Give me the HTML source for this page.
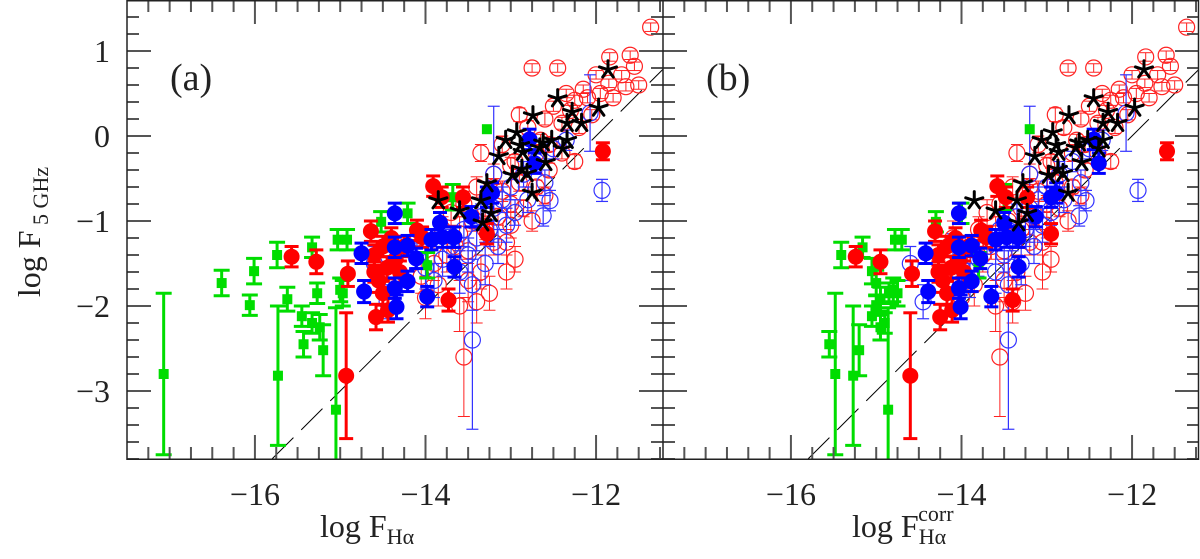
<!DOCTYPE html>
<html><head><meta charset="utf-8">
<style>
html,body{margin:0;padding:0;background:#fff;width:1200px;height:559px;overflow:hidden;}
svg{display:block;vertical-align:top;}
text{font-family:"Liberation Serif",serif;fill:#222;}
</style></head>
<body>
<svg id="chart" width="1200" height="559" viewBox="0 0 1200 559" xmlns="http://www.w3.org/2000/svg">
<defs>
<clipPath id="clipA"><rect x="127" y="0" width="536" height="459"/></clipPath>
<clipPath id="clipB"><rect x="663" y="0" width="536" height="459"/></clipPath>
</defs>
<g id="panelA"></g>
<g id="panelB"></g>
<g id="axes"></g>
<text x="170" y="90" font-size="38">(a)</text>
<text x="706" y="90" font-size="38">(b)</text>
<g transform="translate(40,232) rotate(-90)">
<text x="0" y="0" text-anchor="middle" font-size="32">log F<tspan font-size="22" dy="8"> 5 GHz</tspan></text>
</g>
<text x="320" y="537" font-size="32">log F<tspan font-size="22" dy="7">Hα</tspan></text>
<text x="852" y="537" font-size="32">log F<tspan font-size="22" dy="7">Hα</tspan><tspan font-size="22" dx="-28" dy="-23">corr</tspan></text>
</svg>
<script>
// ---- data ----
const greenX = [-17.07,-16.39,-16.01,-16.06,-15.74,-15.62,-15.73,-15.45,-15.43,-15.33,-15.27,-15.24,-15.33,-15.03,-14.92,-15.00,-15.05,-14.97,-14.52,-14.21,-13.28,-13.68,-13.98,-15.2];
const greenXCorr = [-15.48,-15.0,-15.05,-15.0,-15.41,-14.95,-15.27,-15.05,-15.55,-14.9,-14.85,-14.95,-15.16,-14.78,-14.7,-14.8,-14.86,-14.75,-14.3,-14.0,-13.2,-13.5,-13.8,-15.2];
const greenY = [-2.80,-1.73,-1.59,-1.99,-1.40,-1.92,-2.82,-2.12,-2.45,-2.20,-1.85,-2.25,-1.31,-1.22,-1.22,-1.81,-3.22,-1.85,-1.01,-0.91,0.08,-0.72,-1.52,-2.52];
const greenErr = [0.95,0.15,0.15,0.12,0.15,0.14,0.82,0.12,0.15,0.12,0.12,0.15,0.12,0.12,0.12,0.14,1.2,0.15,0.12,0.12,0.0,0.15,0.15,0.3];

const redX = [-15.57,-15.28,-14.91,-14.64,-14.58,-14.44,-13.91,-14.10,-13.73,-14.6,-14.5,-14.45,-14.55,-14.4,-14.35,-14.3,-14.25,-14.5,-14.6,-14.93,-13.81,-13.56,-13.28,-11.92,-14.04];
const redY = [-1.42,-1.48,-1.62,-1.12,-2.13,-2.05,-0.59,-1.11,-1.93,-1.4,-1.3,-1.55,-1.7,-1.2,-1.45,-1.6,-1.3,-1.85,-1.6,-2.82,-0.72,-0.72,-1.15,-0.18,-1.19];
const redErr = [0.12,0.14,0.15,0.12,0.15,0.14,0.12,0.12,0.13,0.12,0.12,0.13,0.14,0.12,0.12,0.13,0.12,0.14,0.12,0.74,0.12,0.12,0.12,0.1,0.12];
const filledShift = 0.33;

const blueX = [-14.36,-14.75,-14.36,-14.21,-14.11,-14.72,-14.36,-14.34,-14.21,-13.98,-13.93,-13.80,-13.66,-13.66,-13.46,-13.28,-13.83,-12.78,-12.72,-13.22,-13.68];
const blueY = [-0.91,-1.38,-1.31,-1.29,-1.44,-1.83,-1.79,-2.01,-1.71,-1.89,-1.22,-1.19,-1.19,-1.54,-0.95,-0.72,-1.02,-0.04,-0.32,-0.67,-1.19];
const blueErr = [0.12,0.12,0.12,0.12,0.12,0.13,0.12,0.14,0.12,0.12,0.12,0.12,0.12,0.12,0.12,0.12,0.12,0.12,0.12,0.12,0.12];

const blueOpenX = [-14.1,-14.0,-13.9,-13.8,-13.7,-13.6,-13.55,-13.5,-13.45,-13.4,-13.35,-13.3,-13.25,-13.2,-13.15,-13.1,-13.05,-13.0,-12.95,-12.85,-12.8,-12.7,-12.6,-12.5,-12.35,-14.45,-14.6,-13.45,-11.93,-12.54,-12.62,-12.07,-13.2];
const blueOpenY = [-1.35,-1.55,-1.7,-1.45,-1.3,-1.6,-1.1,-1.4,-1.75,-1.2,-0.95,-1.5,-1.1,-0.85,-1.3,-0.75,-1.05,-0.6,-0.9,-0.45,-0.75,-0.3,-0.55,-0.15,-0.05,-1.95,-1.5,-2.4,-0.64,-0.76,-0.94,0.27,-0.45];
const blueOpenErr = [0.2,0.25,0.2,0.2,0.2,0.25,0.2,0.2,0.3,0.15,0.15,0.25,0.2,0.15,0.2,0.15,0.2,0.15,0.15,0.15,0.15,0.12,0.15,0.12,0.12,0.2,0.2,1.05,0.13,0.12,0.12,0.45,0.8];

const redOpenX = [-11.36,-11.60,-11.84,-11.55,-11.7,-11.5,-11.65,-11.85,-12.0,-11.95,-12.1,-12.25,-12.45,-12.75,-12.3,-12.5,-12.6,-12.4,-12.2,-12.05,-12.8,-12.9,-13.1,-12.7,-13.0,-12.55,-13.2,-13.35,-13.4,-13.55,-13.7,-13.6,-13.3,-13.1,-12.9,-13.75,-13.5,-13.2,-13.0,-13.4,-13.05,-12.75,-13.85,-14.0,-13.25,-13.6,-14.1,-13.55,-12.95,-12.6,-12.25,
  -13.8,-13.65,-13.45,-13.3,-13.15,-13.0,-12.85,-12.7,-12.55,-12.4,-13.5,-13.35,-13.9,-14.05,-13.2,-12.95,-12.65,-12.15,-12.35,-11.8,-13.05];
const redOpenY = [1.28,0.95,0.93,0.82,0.72,0.6,0.58,0.62,0.72,0.5,0.45,0.42,0.80,0.80,0.30,0.35,0.2,0.15,0.1,0.25,0.1,0.25,-0.1,-0.2,-0.35,-0.1,-0.45,-0.2,-0.6,-0.8,-0.9,-1.15,-0.85,-0.65,-0.55,-1.4,-1.7,-1.25,-1.05,-1.95,-1.6,-1.0,-1.75,-1.9,-1.85,-2.0,-1.2,-2.6,-1.45,-0.7,-0.3,
  -1.1,-1.3,-1.0,-1.1,-0.95,-0.8,-0.85,-0.6,-0.4,-0.2,-1.35,-1.6,-1.5,-1.65,-0.6,-0.3,-0.05,0.55,0.5,0.45,-1.25];
const redOpenErr = [0.05,0.05,0.05,0.05,0.05,0.05,0.05,0.05,0.05,0.06,0.06,0.06,0.05,0.05,0.06,0.06,0.07,0.07,0.07,0.06,0.08,0.08,0.1,0.1,0.1,0.08,0.12,0.1,0.12,0.15,0.15,0.2,0.12,0.12,0.1,0.2,0.25,0.15,0.15,0.25,0.2,0.12,0.25,0.25,0.2,0.3,0.2,0.7,0.15,0.1,0.08,
  0.15,0.15,0.12,0.12,0.1,0.1,0.1,0.08,0.08,0.07,0.15,0.2,0.2,0.2,0.1,0.08,0.07,0.05,0.05,0.05,0.15];

const starX = [-12.45,-12.28,-11.97,-12.74,-12.34,-12.17,-12.93,-13.06,-12.89,-12.86,-12.62,-12.52,-12.66,-12.34,-12.39,-12.59,-13.14,-12.87,-12.98,-12.81,-12.75,-13.28,-13.35,-13.23,-13.33,-13.6,-13.85,-11.86];
const starY = [0.44,0.28,0.33,0.24,0.15,0.15,0.04,-0.05,-0.11,-0.19,-0.08,-0.05,-0.14,-0.05,-0.15,-0.31,-0.24,-0.39,-0.46,-0.44,-0.67,-0.56,-0.76,-0.91,-1.02,-0.88,-0.76,0.78];

const xTicks = [-16,-14,-12];
const yTicks = [1,0,-1,-2,-3];
const xMin=-17.5, xMax=-11.215, yMin=-3.8, yMax=1.6;

// ---- scales ----
const NS="http://www.w3.org/2000/svg";
const plotTop=0, plotBot=459, pw=536;
function X(v,off){return 127+off+(v-xMin)/(xMax-xMin)*pw;}
function Y(v){return plotTop+(yMax-v)/(yMax-yMin)*(plotBot-plotTop);}
function mk(tag,attrs,parent){const e=document.createElementNS(NS,tag);for(const k in attrs)e.setAttribute(k,attrs[k]);parent.appendChild(e);return e;}

function errbar(g,cx,y,err,color,w,cap){
  if(err<=0)return;
  const y1=Y(y+err), y2=Y(y-err);
  mk('line',{x1:cx,x2:cx,y1:y1,y2:y2,stroke:color,'stroke-width':w},g);
  mk('line',{x1:cx-cap,x2:cx+cap,y1:y1,y2:y1,stroke:color,'stroke-width':w},g);
  mk('line',{x1:cx-cap,x2:cx+cap,y1:y2,y2:y2,stroke:color,'stroke-width':w},g);
}

function drawPanel(g,off,corr,clip){
  g.setAttribute('clip-path','url(#'+clip+')');
  const dl=mk('line',{x1:X(xMin,off),y1:Y(xMin+12.0),x2:X(xMax,off),y2:Y(xMax+12.0),stroke:'#000','stroke-width':1,'stroke-dasharray':'30,11'},g);
  
  
  redOpenX.forEach((x,i)=>{
    const cx=X(x,off), cy=Y(redOpenY[i]);
    const pg=mk('g',{},g);
    
    
    errbar(pg,cx,redOpenY[i],redOpenErr[i],'#f22',1,6);
    mk('circle',{cx:cx,cy:cy,r:8,fill:'none',stroke:'#f22','stroke-width':1.2},pg);
  });
  blueOpenX.forEach((x,i)=>{
    const cx=X(x,off), cy=Y(blueOpenY[i]);
    const pg=mk('g',{},g);
    
    
    errbar(pg,cx,blueOpenY[i],blueOpenErr[i],'#33f',1.2,6);
    mk('circle',{cx:cx,cy:cy,r:8,fill:'none',stroke:'#33f','stroke-width':1.2},pg);
  });
  greenX.forEach((x,i)=>{
    const xv=corr?greenXCorr[i]:x;
    const cx=X(xv,off), cy=Y(greenY[i]);
    const pg=mk('g',{},g);
    
    
    errbar(pg,cx,greenY[i],greenErr[i],'#0d0',3,8);
    mk('rect',{x:cx-5,y:cy-5,width:10,height:10,fill:'#0d0'},pg);
  });
  redX.forEach((x,i)=>{
    const xv=corr?x+filledShift:x;
    const cx=X(xv,off), cy=Y(redY[i]);
    const pg=mk('g',{},g);
    
    
    errbar(pg,cx,redY[i],redErr[i],'#f00',3,7);
    mk('circle',{cx:cx,cy:cy,r:8,fill:'#f00'},pg);
  });
  blueX.forEach((x,i)=>{
    const xv=corr?x+filledShift:x;
    const cx=X(xv,off), cy=Y(blueY[i]);
    const pg=mk('g',{},g);
    
    
    errbar(pg,cx,blueY[i],blueErr[i],'#00f',3,7);
    mk('circle',{cx:cx,cy:cy,r:8,fill:'#00f'},pg);
  });
  starX.forEach((x,i)=>{
    const cx=X(x,off), cy=Y(starY[i]);
    const pg=mk('g',{},g);
    
    
    for(let k=0;k<5;k++){
      const a=-Math.PI/2+k*2*Math.PI/5;
      mk('line',{x1:cx,y1:cy,x2:cx+9*Math.cos(a),y2:cy+9*Math.sin(a),stroke:'#000','stroke-width':3,'stroke-linecap':'round'},pg);
    }
  });
}
drawPanel(document.getElementById('panelA'),0,false,'clipA');
drawPanel(document.getElementById('panelB'),pw,true,'clipB');

// ---- axes ----
const ax=document.getElementById('axes');
const tc='#555';
function vtick(x,y,len,dir){mk('line',{x1:x,x2:x,y1:y,y2:y+dir*len,stroke:tc,'stroke-width':2},ax);}
function htick(x,y,len,dir){mk('line',{x1:x,x2:x+dir*len,y1:y,y2:y,stroke:tc,'stroke-width':2},ax);}
[0,pw].forEach(off=>{
  for(let v=-17.5;v<=xMax+1e-6;v+=0.25){
    const major=Math.abs(v-Math.round(v))<1e-6 && Math.round(v)%2===0;
    const x=X(v,off); const len=major?24:12;
    if(x<127+off+1||x>127+off+pw-1)continue;
    vtick(x,plotBot,len,-1); vtick(x,plotTop,len,1);
  }
  xTicks.forEach(v=>{
    const t=mk('text',{x:X(v,off),y:505,'text-anchor':'middle','font-size':32},ax);
    t.textContent='\u2212'+Math.abs(v);
    
    
  });
});
for(let v=-3.8;v<=1.6+1e-6;v+=0.2){
  const y=Y(v); const major=Math.abs(v-Math.round(v))<1e-6;
  const len=major?24:12;
  htick(127,y,len,1);
  htick(663,y,len,1); htick(663,y,len,-1);
  htick(1199,y,len,-1);
}
yTicks.forEach(v=>{
  const t=mk('text',{x:110,y:Y(v)+11,'text-anchor':'end','font-size':32},ax);
  t.textContent=(v<0?'\u2212':'')+Math.abs(v);
  
  
});
mk('rect',{x:127,y:0.75,width:1071.5,height:458.5,fill:'none',stroke:'#222','stroke-width':1.5},ax);
mk('line',{x1:663,x2:663,y1:0,y2:459,stroke:'#222','stroke-width':1.5},ax);
</script>
</body></html>
